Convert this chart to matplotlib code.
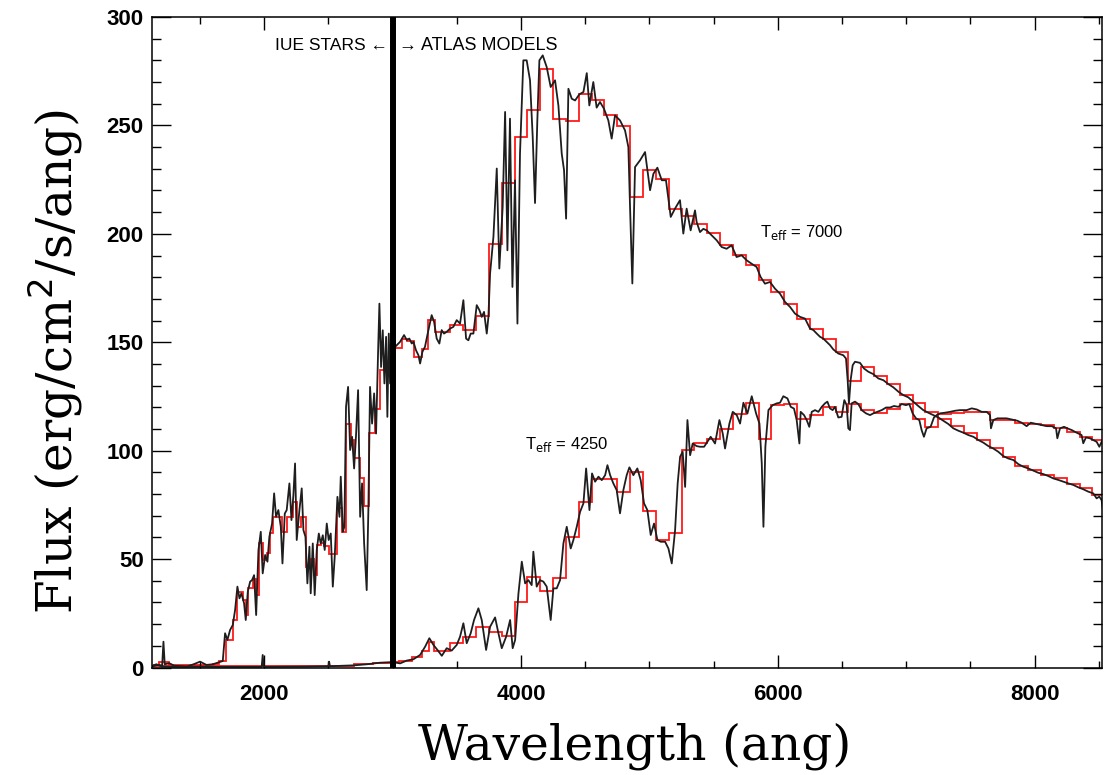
import matplotlib
matplotlib.use("Agg")
import matplotlib.pyplot as plt
from matplotlib.ticker import MultipleLocator

# ---- T_eff = 7000 star: IUE (< 3000 A) + ATLAS model (> 3000 A), black spectrum
t7000_wl = [1130, 1170, 1205, 1215, 1225, 1260, 1300, 1400, 1450, 1500, 1550, 1600, 1650, 1677,
            1695, 1713, 1734, 1755, 1773, 1791, 1807, 1822, 1843, 1856, 1872, 1890, 1905, 1921,
            1937, 1955, 1973, 1988, 2007, 2025, 2040, 2061, 2077, 2092, 2110, 2129, 2142, 2160,
            2175, 2196, 2212, 2227, 2240, 2253, 2274, 2292, 2305, 2321, 2336, 2352, 2362, 2378,
            2393, 2409, 2425, 2440, 2456, 2471, 2487, 2502, 2518, 2534, 2549, 2570, 2586, 2596,
            2612, 2624, 2637, 2653, 2669, 2684, 2700, 2715, 2731, 2747, 2762, 2778, 2798, 2811,
            2824, 2840, 2856, 2871, 2887, 2897, 2910, 2923, 2936, 2949, 2959, 2970, 2980, 2998,
            3020, 3058, 3089, 3110, 3130, 3149, 3162, 3182, 3201, 3214, 3232, 3252, 3273, 3304,
            3323, 3343, 3364, 3382, 3400, 3421, 3447, 3473, 3499, 3525, 3551, 3572, 3590, 3608,
            3629, 3655, 3676, 3694, 3712, 3733, 3746, 3759, 3785, 3811, 3831, 3857, 3876, 3894,
            3914, 3933, 3953, 3972, 3992, 4018, 4044, 4070, 4091, 4109, 4127, 4143, 4169, 4200,
            4231, 4265, 4291, 4317, 4335, 4351, 4369, 4395, 4421, 4454, 4486, 4512, 4532, 4563,
            4589, 4615, 4646, 4680, 4706, 4732, 4771, 4810, 4836, 4849, 4867, 4888, 4927, 4966,
            5005, 5031, 5062, 5096, 5129, 5166, 5199, 5238, 5264, 5290, 5321, 5355, 5368, 5394,
            5420, 5446, 5485, 5524, 5563, 5601, 5640, 5679, 5718, 5757, 5796, 5835, 5866, 5900,
            5939, 5978, 6017, 6056, 6095, 6134, 6173, 6212, 6251, 6277, 6303, 6329, 6354, 6380,
            6406, 6432, 6471, 6510, 6531, 6544, 6554, 6567, 6583, 6601, 6640, 6671, 6705, 6744,
            6783, 6822, 6861, 6900, 6939, 6978, 7016, 7055, 7094, 7133, 7172, 7211, 7250, 7289,
            7328, 7367, 7406, 7445, 7484, 7523, 7562, 7601, 7640, 7678, 7717, 7756, 7795, 7834,
            7873, 7912, 7951, 7990, 8029, 8068, 8107, 8146, 8185, 8224, 8263, 8301, 8340, 8379,
            8418, 8457, 8483, 8504, 8522, 8535]
t7000_flux = [0.5, 1.2, 1.0, 11.9, 1.5, 2.0, 0.8, 0.5, 1.5, 2.7, 1.2, 1.5, 2.5, 3.0,
              15.8, 12.7, 17.3, 19.6, 26.5, 37.3, 31.9, 34.2, 29.6, 21.9, 35.0, 39.6, 40.3, 42.6,
              24.2, 54.2, 62.6, 43.4, 51.9, 48.8, 60.3, 66.4, 80.3, 69.5, 72.6, 64.9, 48.0, 71.0,
              72.6, 84.9, 68.0, 79.5, 94.1, 58.8, 72.6, 82.6, 63.4, 60.3, 38.8, 55.7, 34.2, 57.2,
              33.4, 54.2, 61.8, 57.2, 61.0, 54.2, 66.4, 58.8, 61.8, 37.3, 51.1, 78.7, 69.5, 88.0,
              62.6, 64.9, 120.2, 129.4, 100.3, 106.4, 91.8, 107.2, 127.9, 69.5, 84.9, 57.2, 35.7, 72.6,
              129.4, 112.5, 126.4, 107.9, 146.3, 167.8, 138.6, 155.5, 131.0, 152.5, 115.6, 154.0, 131.0, 146.3,
              147.9, 150.2, 153.3, 151.0, 151.7, 149.4, 150.2, 146.3, 144.0, 140.2, 145.6, 147.9, 154.0, 162.5,
              159.4, 151.7, 149.4, 155.6, 154.0, 154.8, 156.3, 157.1, 160.2, 158.6, 169.4, 151.7, 150.9, 154.0,
              154.0, 167.1, 164.8, 161.7, 164.0, 154.0, 161.7, 181.7, 198.6, 230.1, 184.0, 212.4, 256.2, 192.4,
              253.1, 175.5, 224.7, 158.6, 237.0, 280.0, 280.0, 270.8, 244.6, 214.2, 252.3, 280.0, 282.3, 276.9,
              267.7, 270.8, 259.2, 237.0, 229.3, 207.0, 266.9, 262.3, 261.5, 264.3, 265.4, 274.1, 259.2, 270.0,
              258.2, 260.8, 257.7, 252.3, 243.9, 254.6, 252.3, 247.7, 240.0, 212.4, 177.1, 230.8, 233.9, 237.7,
              220.1, 227.7, 230.5, 224.7, 224.7, 207.8, 211.6, 215.5, 200.1, 211.6, 201.6, 210.8, 205.4, 200.8,
              202.3, 201.6, 199.3, 197.0, 193.9, 193.1, 194.7, 189.3, 190.1, 187.8, 186.2, 184.7, 180.1, 177.0,
              177.8, 174.7, 172.4, 168.6, 166.3, 163.2, 161.7, 160.9, 156.3, 155.6, 154.0, 152.5, 151.7, 150.2,
              148.7, 146.7, 144.8, 144.0, 142.5, 132.5, 121.8, 132.5, 139.4, 141.0, 140.5, 137.9, 136.4, 135.3,
              133.3, 132.5, 130.7, 129.2, 127.2, 125.6, 124.6, 122.6, 120.6, 118.7, 117.5, 116.4, 115.3, 113.8,
              112.3, 110.3, 109.2, 108.3, 107.2, 106.4, 104.9, 103.7, 102.1, 101.0, 99.5, 97.5, 96.4, 95.7,
              93.8, 92.6, 91.8, 90.8, 89.8, 89.2, 88.3, 87.2, 86.5, 85.7, 84.9, 84.2, 83.1, 82.2,
              81.1, 80.3, 78.0, 78.8, 77.2, 71.1]

# ---- T_eff = 4250 star, black spectrum
t4250_wl = [1130, 1160, 1200, 1300, 1500, 1700, 1980, 1988, 1996, 2300, 2500, 2505, 2512, 2700,
            2800, 2900, 3000, 3058, 3110, 3162, 3214, 3253, 3286, 3318, 3349, 3383, 3421, 3460,
            3499, 3525, 3551, 3577, 3608, 3634, 3668, 3694, 3728, 3759, 3798, 3824, 3850, 3884,
            3915, 3935, 3954, 3980, 4006, 4032, 4057, 4083, 4096, 4122, 4148, 4174, 4200, 4231,
            4252, 4278, 4304, 4330, 4356, 4387, 4408, 4434, 4460, 4486, 4507, 4533, 4553, 4577,
            4603, 4629, 4655, 4673, 4694, 4719, 4745, 4771, 4797, 4823, 4844, 4875, 4906, 4932,
            4958, 4984, 5010, 5036, 5062, 5088, 5122, 5148, 5174, 5200, 5220, 5239, 5259, 5278,
            5296, 5317, 5337, 5368, 5394, 5426, 5452, 5477, 5511, 5545, 5571, 5589, 5623, 5649,
            5680, 5706, 5732, 5763, 5797, 5831, 5857, 5875, 5888, 5903, 5927, 5960, 5991, 6017,
            6043, 6075, 6101, 6126, 6147, 6168, 6178, 6204, 6225, 6245, 6264, 6290, 6316, 6342,
            6367, 6386, 6406, 6427, 6445, 6471, 6497, 6518, 6536, 6549, 6562, 6575, 6601, 6627,
            6653, 6687, 6718, 6744, 6775, 6809, 6843, 6874, 6905, 6939, 6965, 6998, 7024, 7050,
            7076, 7102, 7120, 7138, 7159, 7190, 7216, 7237, 7263, 7302, 7341, 7380, 7419, 7471,
            7510, 7549, 7588, 7627, 7653, 7660, 7678, 7710, 7743, 7782, 7821, 7865, 7899, 7938,
            7969, 8016, 8055, 8094, 8133, 8167, 8177, 8198, 8229, 8255, 8289, 8327, 8366, 8379,
            8400, 8431, 8457, 8483, 8504, 8522, 8540]
t4250_flux = [0.8, 1.5, 0.5, 0.3, 0.4, 0.3, 0.3, 5.8, 0.3, 0.4, 0.6, 2.7, 0.6, 1.0,
              1.5, 2.2, 2.5, 1.9, 3.2, 3.8, 5.8, 9.6, 13.5, 10.4, 8.1, 5.4, 8.9, 7.8,
              10.4, 14.2, 20.4, 11.2, 15.8, 21.9, 27.3, 21.9, 8.1, 18.8, 23.1, 15.8, 8.9, 14.2,
              21.9, 8.9, 12.7, 34.2, 48.8, 38.8, 40.3, 38.0, 53.4, 37.3, 40.3, 39.6, 37.3, 21.9,
              36.5, 36.5, 40.3, 57.2, 64.9, 54.9, 58.8, 64.9, 71.8, 75.7, 91.8, 72.6, 89.5, 85.7,
              88.0, 86.4, 88.7, 93.3, 88.7, 84.9, 81.8, 71.1, 81.8, 88.7, 92.3, 88.7, 91.8, 86.4,
              75.7, 72.6, 61.1, 66.4, 58.8, 58.0, 58.0, 54.9, 48.0, 63.4, 84.9, 97.2, 99.5, 83.3,
              114.1, 97.9, 103.3, 102.1, 101.8, 101.8, 104.1, 106.4, 103.3, 114.1, 107.9, 101.0, 112.5, 117.9,
              116.4, 112.5, 122.1, 117.1, 125.1, 117.1, 112.5, 94.1, 64.9, 101.8, 118.7, 121.0, 121.8, 122.1,
              125.1, 124.1, 120.2, 119.4, 114.1, 103.3, 117.9, 116.4, 114.1, 111.0, 117.9, 118.7, 117.9, 120.2,
              121.8, 122.6, 119.5, 118.7, 120.2, 115.3, 115.6, 123.3, 121.0, 110.3, 109.5, 121.8, 122.6, 121.5,
              118.7, 117.2, 116.4, 117.2, 117.9, 118.7, 119.9, 119.9, 120.6, 120.2, 121.5, 121.0, 121.5, 117.2,
              114.9, 114.1, 109.5, 106.4, 110.3, 111.0, 115.3, 116.4, 117.2, 117.5, 117.9, 118.4, 118.7, 118.7,
              119.5, 119.0, 117.9, 117.9, 116.4, 110.3, 114.1, 114.9, 114.9, 114.9, 114.4, 113.8, 112.9, 111.3,
              112.9, 112.3, 111.8, 111.3, 111.3, 110.3, 105.7, 110.3, 111.0, 110.3, 109.5, 108.3, 107.2, 103.4,
              106.1, 105.7, 104.9, 104.1, 101.8, 104.1, 101.8]

# ---- binned (red) versions: bin edges and bin values
atlas_edges = [3000, 3070, 3115, 3165, 3225, 3275, 3330, 3450, 3550, 3650, 3750, 3850, 3950, 4050,
               4150, 4250, 4350, 4450, 4550, 4650, 4750, 4850, 4950, 5050, 5150, 5250, 5350, 5450,
               5550, 5650, 5750, 5850, 5950, 6050, 6150, 6250, 6350, 6450, 6550, 6650, 6750, 6850,
               6950, 7050, 7150, 7250, 7350, 7450, 7550, 7650, 7750, 7850, 7950, 8050, 8150, 8250,
               8350, 8450, 8550]
t7000_bin = [147.4, 151.7, 150.5, 143.3, 147.1, 160.2, 154.8, 157.9, 155.6, 162.2, 195.2, 223.6, 244.6,
             256.9, 276.1, 253.1, 252.0, 264.3, 261.5, 254.6, 249.6, 217.0, 229.5, 225.4, 211.6, 208.0,
             204.3, 200.3, 194.7, 190.1, 185.5, 178.5, 173.2, 167.8, 160.9, 156.3, 151.7, 145.6, 132.1,
             138.7, 134.4, 130.6, 125.8, 122.0, 117.7, 114.5, 111.4, 108.1, 104.9, 101.0, 97.2, 92.9,
             91.1, 88.8, 87.2, 84.6, 82.6, 79.5]

iue_edges = [1130, 1180, 1260, 1600, 1650, 1703, 1755, 1791, 1838, 1856, 1877, 1911, 1937, 1962,
             1994, 2025, 2046, 2072, 2142, 2175, 2227, 2253, 2284, 2326, 2362, 2388, 2414, 2440,
             2466, 2505, 2565, 2609, 2637, 2674, 2702, 2747, 2780, 2819, 2863, 2902, 2959, 3000]
t7000_iue_bin = [1.0, 2.5, 1.0, 1.8, 3.0, 12.7, 21.9, 35.0, 31.0, 24.2, 36.5, 41.0, 33.4, 57.2,
                 49.6, 52.6, 61.8, 69.5, 62.6, 69.5, 76.4, 64.9, 69.5, 46.5, 49.9, 42.6, 56.5, 57.5,
                 56.0, 52.3, 73.4, 62.6, 112.5, 104.8, 96.4, 87.2, 74.4, 108.2, 119.0, 137.4, 136.8]

t4250_edges = [1130, 2700, 2850, 3000, 3050, 3150, 3230, 3280, 3320, 3450, 3550, 3650, 3750, 3850,
               3950, 4050, 4150, 4250, 4350, 4450, 4550, 4650, 4750, 4850, 4950, 5050, 5150, 5250,
               5350, 5450, 5550, 5650, 5750, 5850, 5950, 6050, 6150, 6250, 6350, 6450, 6550, 6650,
               6750, 6850, 6950, 7050, 7150, 7250, 7350, 7450, 7550, 7650, 7750, 7850, 7950, 8050,
               8150, 8250, 8350, 8450, 8550]
t4250_bin = [0.5, 1.5, 2.2, 2.5, 2.9, 4.7, 7.8, 11.9, 7.8, 11.2, 14.2, 18.8, 16.5, 14.5,
             30.4, 41.9, 35.3, 41.1, 60.0, 76.1, 87.0, 86.8, 81.0, 90.3, 72.1, 58.8, 61.8, 100.5,
             103.6, 105.2, 109.8, 117.1, 122.2, 105.5, 121.0, 121.4, 114.4, 116.4, 120.2, 117.9, 121.7, 118.7,
             117.4, 119.4, 121.4, 114.4, 111.0, 117.1, 117.4, 117.9, 117.9, 114.1, 114.1, 112.6, 112.3, 111.8,
             110.3, 108.7, 106.4, 104.9]

SPLIT_WL = 3000

plt.rcParams["font.family"] = ["Liberation Sans", "DejaVu Sans"]

fig = plt.figure(figsize=(11.04, 7.75), dpi=100)
ax = fig.add_axes([0.1377, 0.1387, 0.8605, 0.8394])

spec_kw = dict(color="#1e1e1e", lw=1.3, solid_joinstyle="round")
ax.plot(t7000_wl, t7000_flux, **spec_kw)
ax.plot(t4250_wl, t4250_flux, **spec_kw)

red_kw = dict(color="#ff1a1a", lw=1.3, baseline=None)
ax.stairs(t7000_iue_bin, iue_edges, **red_kw)
ax.stairs(t7000_bin, atlas_edges, **red_kw)
ax.stairs(t4250_bin, t4250_edges, **red_kw)

ax.axvline(SPLIT_WL, color="black", lw=4.3, zorder=5)

ax.text(SPLIT_WL - 36, 287, "IUE STARS \u2190", ha="right", va="center", fontsize=12.5)
ax.text(SPLIT_WL + 50, 287, "\u2192 ATLAS MODELS", ha="left", va="center", fontsize=13)
ax.text(5861, 200.7, r"T$_{\rm eff}$ = 7000", ha="left", va="center", fontsize=12)
ax.text(4031, 103, r"T$_{\rm eff}$ = 4250", ha="left", va="center", fontsize=12)

ax.set_xlim(1126, 8525)
ax.set_ylim(0, 300)
ax.xaxis.set_major_locator(MultipleLocator(2000))
ax.xaxis.set_minor_locator(MultipleLocator(500))
ax.yaxis.set_major_locator(MultipleLocator(50))
ax.yaxis.set_minor_locator(MultipleLocator(10))
ax.tick_params(axis="x", which="major", direction="in", length=9.4, width=1.0,
               top=True, labelsize=16, pad=12)
ax.tick_params(axis="x", which="minor", direction="in", length=4.7, width=1.0, top=True)
ax.tick_params(axis="y", which="major", direction="in", length=13.7, width=1.0,
               right=True, labelsize=16, pad=6)
ax.tick_params(axis="y", which="minor", direction="in", length=6.8, width=1.0, right=True)
for lbl in ax.get_xticklabels() + ax.get_yticklabels():
    lbl.set_fontweight("bold")
for sp in ax.spines.values():
    sp.set_linewidth(1.1)

ax.set_xlabel("Wavelength (ang)", family="DejaVu Serif", fontsize=35)
ax.set_ylabel(r"Flux (erg/cm$^2$/s/ang)", family="DejaVu Serif", fontsize=35)
ax.xaxis.set_label_coords(0.508, -0.085)
ax.yaxis.set_label_coords(-0.071, 0.47)

fig.savefig("out.png", dpi=100)
